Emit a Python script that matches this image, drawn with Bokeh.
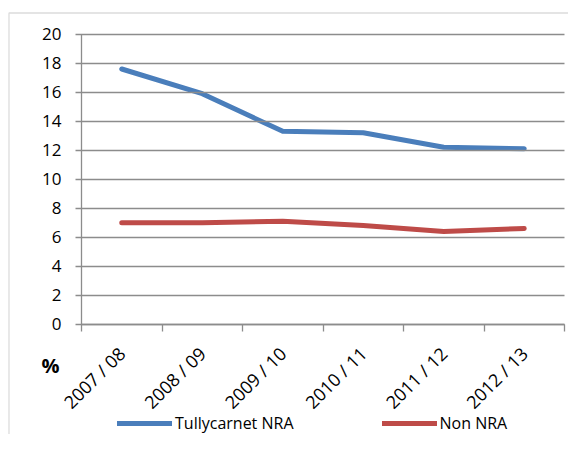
import numpy as np
from bokeh.plotting import figure
from bokeh.models import (Range1d, FixedTicker, SingleIntervalTicker, Legend, LegendItem,
                          Label, BoxAnnotation)
from bokeh.embed import file_html
from bokeh.resources import INLINE

years = ["2007 / 08", "2008 / 09", "2009 / 10", "2010 / 11", "2011 / 12", "2012 / 13"]
tullycarnet = [17.6, 15.9, 13.3, 13.2, 12.2, 12.1]
non_nra = [7.0, 7.0, 7.1, 6.8, 6.4, 6.6]
series_names = ["Tullycarnet NRA", "Non NRA"]
y_axis_title = "%"
y_max = 20
y_step = 2

FONT = "Open Sans"
GRID = "#8c8c8c"
W, H = 568, 434
# plot-area geometry in canvas pixels
PL, PR, PT, PB = 81, 564, 33.7, 323.7

n = len(years)
xc = np.arange(n) + 0.5
xs = (PR - PL) / n
ys = (PB - PT) / y_max

p = figure(width=W, height=H, output_backend="svg", toolbar_location=None, title=None,
           x_range=Range1d(-PL / xs, n + (W - PR) / xs),
           y_range=Range1d(-(H - PB) / ys, y_max + PT / ys))
p.min_border = 0
p.outline_line_color = None
p.xgrid.visible = False
p.ygrid.visible = False

# y axis drawn at x=0; its inward ticks span the plot as gridlines
ya = p.yaxis[0]
ya.fixed_location = 0
ya.bounds = (0, y_max)
ya.ticker = SingleIntervalTicker(interval=y_step, num_minor_ticks=0)
ya.axis_line_color = GRID
ya.axis_line_width = 1.3
ya.major_tick_line_color = GRID
ya.major_tick_line_width = 1.3
ya.major_tick_out = 6
ya.major_tick_in = int(PR - PL)
ya.minor_tick_line_color = None
ya.major_label_standoff = 14
ya.major_label_text_font = FONT
ya.major_label_text_font_size = "17px"
ya.major_label_text_color = "black"

# x axis drawn at y=0: labels at category centres, tick marks at boundaries
xa = p.xaxis[0]
xa.fixed_location = 0
xa.bounds = (0, n)
xa.ticker = FixedTicker(ticks=list(xc), minor_ticks=list(range(n + 1)))
xa.major_label_overrides = {float(x): lab for x, lab in zip(xc, years)}
xa.major_label_orientation = np.pi / 4
xa.axis_line_color = GRID
xa.axis_line_width = 1.3
xa.major_tick_line_color = None
xa.major_tick_out = 0
xa.major_tick_in = 0
xa.minor_tick_line_color = GRID
xa.minor_tick_line_width = 1.3
xa.minor_tick_out = 7
xa.minor_tick_in = 0
xa.major_label_standoff = 19
xa.major_label_text_font = FONT
xa.major_label_text_font_size = "18px"
xa.major_label_text_color = "black"

r1 = p.line(xc, tullycarnet, line_color="#4A7EBB", line_width=5, line_cap="round", line_join="round")
r2 = p.line(xc, non_nra, line_color="#BE4B48", line_width=5, line_cap="round", line_join="round")

legend = Legend(items=[LegendItem(label=series_names[0], renderers=[r1]),
                       LegendItem(label=series_names[1], renderers=[r2])],
                orientation="horizontal", location=(117, 0),
                glyph_width=55, glyph_height=16, label_standoff=3, spacing=88,
                padding=0, margin=0, border_line_color=None, background_fill_alpha=0,
                label_text_font=FONT, label_text_font_size="16px", label_text_color="black")
p.add_layout(legend, "center")

p.add_layout(Label(x=41, y=H - 365, x_units="screen", y_units="screen", text=y_axis_title,
                   text_font=FONT, text_font_style="bold", text_font_size="20px",
                   text_baseline="middle", text_color="black"))

p.add_layout(BoxAnnotation(left=8.5, right=W + 50, top=H - 12.5, bottom=-50,
                           left_units="screen", right_units="screen",
                           top_units="screen", bottom_units="screen",
                           fill_alpha=0, line_color=GRID, line_width=1.3))

open("out.html", "w").write(file_html(p, INLINE))
